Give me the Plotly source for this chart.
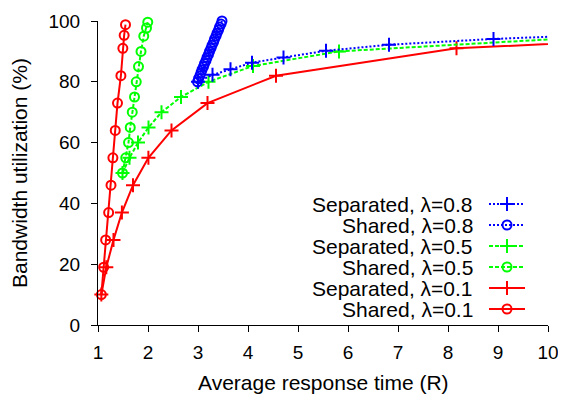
import plotly.graph_objects as go

# ---- data ----
sep08_x = [3.00, 3.29, 3.65, 4.08, 4.71, 5.56, 6.82, 8.91, 12.0]
sep08_y = [80, 82.3, 84.1, 86.3, 88.0, 90.2, 92.2, 94.1, 96.1]

sh08_x = [2.99, 3.01, 3.04, 3.06, 3.08, 3.11, 3.13, 3.16, 3.18, 3.21, 3.23,
          3.26, 3.28, 3.31, 3.33, 3.36, 3.38, 3.41, 3.43, 3.46, 3.48]
sh08_y = [80, 81, 82, 83, 84, 85, 86, 87, 88, 89, 90,
          91, 92, 93, 94, 95, 96, 97, 98, 99, 100]

sep05_x = [1.49, 1.63, 1.80, 2.01, 2.27, 2.66, 3.21, 4.10, 5.82, 10.6]
sep05_y = [50, 55, 60, 65, 70, 75, 80, 85.2, 90, 94.5]

sh05_x = [1.49, 1.555, 1.61, 1.645, 1.685, 1.73, 1.765, 1.81, 1.86, 1.915, 1.97, 1.995]
sh05_y = [50, 55, 60, 65, 70, 75, 80, 85, 90, 95, 97.7, 99.6]

sep01_x = [1.067, 1.166, 1.31, 1.478, 1.70, 2.008, 2.47, 3.19, 4.56, 8.17, 11.5]
sep01_y = [10, 19, 28, 37, 46, 55, 64, 73, 82, 91, 93.6]

sh01_x = [1.067, 1.113, 1.153, 1.213, 1.26, 1.298, 1.345, 1.39, 1.458, 1.497, 1.523, 1.55]
sh01_y = [10, 19, 28, 37, 46, 55, 64, 73, 82, 91, 95.3, 98.8]

x_ticks = [1, 2, 3, 4, 5, 6, 7, 8, 9, 10]
y_ticks = [0, 20, 40, 60, 80, 100]

names = ["Separated, λ=0.8", "Shared, λ=0.8", "Separated, λ=0.5",
         "Shared, λ=0.5", "Separated, λ=0.1", "Shared, λ=0.1"]
x_title = "Average response time (R)"
y_title = "Bandwidth utilization (%)"

BLUE = "#0000ff"
GREEN = "#00ff00"
RED = "#ff0000"
FONT = "Arial, 'Liberation Sans', sans-serif"
FS = 19

styles = [
    dict(color=BLUE, dash="2px,2px", symbol="cross-thin-open", size=10),
    dict(color=BLUE, dash="2px,2px", symbol="circle-open", size=9),
    dict(color=GREEN, dash="4px,2px", symbol="cross-thin-open", size=10),
    dict(color=GREEN, dash="4px,2px", symbol="circle-open", size=9),
    dict(color=RED, dash="solid", symbol="cross-thin-open", size=10),
    dict(color=RED, dash="solid", symbol="circle-open", size=9),
]
series = [(sep08_x, sep08_y), (sh08_x, sh08_y), (sep05_x, sep05_y),
          (sh05_x, sh05_y), (sep01_x, sep01_y), (sh01_x, sh01_y)]

X_MIN, X_MAX = 1, 10

fig = go.Figure()
for i in [5, 4, 3, 2, 1, 0]:
    st = styles[i]
    xs, ys = series[i]
    fig.add_trace(go.Scatter(
        x=xs, y=ys, mode="lines", name=names[i], showlegend=False,
        line=dict(color=st["color"], width=2, dash=st["dash"]),
    ))
    vis = [(a, b) for a, b in zip(xs, ys) if X_MIN <= a <= X_MAX]
    fig.add_trace(go.Scatter(
        x=[p[0] for p in vis], y=[p[1] for p in vis], mode="markers",
        showlegend=False, cliponaxis=False,
        marker=dict(symbol=st["symbol"], size=st["size"], color=st["color"],
                    line=dict(color=st["color"], width=2)),
    ))

# page body has an 8px margin: figure is offset by (8, 8) in the window
OFF = 8
W, H = 566 - OFF, 401 - OFF
# plot-area edges in window pixels (matching the reference)
L, R, T, B = 98, 548, 21, 325

# custom legend (text right-aligned, sample on right) on an overlay pixel axis
row_y = [204, 225, 246, 267, 288, 309]
for i, st in enumerate(styles):
    yy = row_y[i]
    fig.add_trace(go.Scatter(
        x=[489, 525], y=[yy, yy], xaxis="x2", yaxis="y2", mode="lines",
        showlegend=False, hoverinfo="skip",
        line=dict(color=st["color"], width=2, dash=st["dash"])))
    fig.add_trace(go.Scatter(
        x=[507], y=[yy], xaxis="x2", yaxis="y2", mode="markers",
        showlegend=False, hoverinfo="skip",
        marker=dict(symbol=st["symbol"], size=st["size"], color=st["color"],
                    line=dict(color=st["color"], width=2))))
    fig.add_annotation(x=475, y=yy, xref="x2", yref="y2", text=names[i],
                       showarrow=False, xanchor="right", yanchor="middle",
                       font=dict(family=FONT, size=21, color="black"))

# axis titles
fig.add_annotation(x=0.5, y=0, xref="paper", yref="paper", text=x_title,
                   showarrow=False, xanchor="center", yanchor="middle",
                   yshift=-(382 - B), font=dict(family=FONT, size=21, color="black"))
fig.add_annotation(x=0, y=0.5, xref="paper", yref="paper", text=y_title,
                   showarrow=False, xanchor="center", yanchor="middle", textangle=-90,
                   xshift=-(L - 19), font=dict(family=FONT, size=21, color="black"))

fig.update_layout(
    width=W, height=H,
    margin=dict(l=L - OFF, r=W - (R - OFF), t=T - OFF, b=H - (B - OFF)),
    paper_bgcolor="white", plot_bgcolor="white",
    font=dict(family=FONT, size=FS, color="black"),
    xaxis=dict(range=[X_MIN, X_MAX], tickvals=x_ticks, showgrid=False, zeroline=False,
               showline=True, linecolor="black", linewidth=1, automargin=False,
               ticks="outside", ticklen=6, tickcolor="black", ticklabelstandoff=4,
               ticklabeloverflow="allow", tickfont=dict(size=FS)),
    yaxis=dict(range=[0, 100], tickvals=y_ticks, showgrid=False, zeroline=False,
               showline=True, linecolor="black", linewidth=1, automargin=False,
               ticks="outside", ticklen=6, tickcolor="black", ticklabelstandoff=7,
               ticklabeloverflow="allow", tickfont=dict(size=FS)),
    xaxis2=dict(range=[L, R], overlaying="x", visible=False, fixedrange=True),
    yaxis2=dict(range=[B, T], overlaying="y", visible=False, fixedrange=True),
)

fig.write_html("out.html")
